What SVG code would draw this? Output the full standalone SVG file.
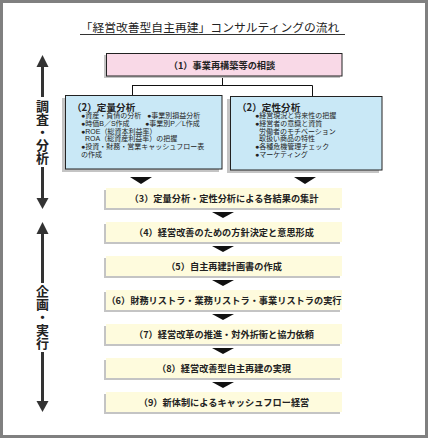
<svg xmlns="http://www.w3.org/2000/svg" width="428" height="438" viewBox="0 0 428 438">
<style>
text{font-family:"Noto Sans CJK JP","Noto Sans",sans-serif;fill:#222}
.title{font-size:11.8px}
.lbl{font-size:9.2px;font-weight:bold}
.sub{font-size:9.6px;font-weight:bold}
.b{font-size:7px;font-family:"Liberation Sans","Noto Sans CJK JP",sans-serif}
.vt{font-size:13px;font-weight:bold;writing-mode:vertical-rl}
.shadow{fill:#c4c4c4}
.pink{fill:#f9d9e7;stroke:#222;stroke-width:1}
.blue{fill:#c9e8f6;stroke:#222;stroke-width:1}
.yel{fill:#fefbdd}
.tri{fill:#111}
.conn{fill:none;stroke:#111;stroke-width:1}
.arr{fill:#333}
</style>
<rect x="0" y="0" width="428" height="438" fill="#fff"/>
<rect x="1.5" y="1.5" width="425" height="435" fill="none" stroke="#808080" stroke-width="3"/>
<g id="title">
<text class="title" x="210" y="32" text-anchor="middle">「経営改善型自主再建」コンサルティングの流れ</text>
<line x1="80" y1="34.5" x2="345" y2="34.5" stroke="#333" stroke-width="1"/>
</g>
<g id="side-arrows">
<polygon class="arr" points="42.5,55 36.5,67 48.5,67"/>
<rect class="arr" x="41" y="66" width="3" height="31"/>
<rect class="arr" x="41" y="167" width="3" height="32"/>
<polygon class="arr" points="42.5,209 36.5,198 48.5,198"/>
<text class="vt" x="42.5" y="100">調査・分析</text>
<polygon class="arr" points="42.5,222 36.5,234 48.5,234"/>
<rect class="arr" x="41" y="233" width="3" height="50"/>
<rect class="arr" x="41" y="352" width="3" height="50"/>
<polygon class="arr" points="42.5,412 36.5,401 48.5,401"/>
<text class="vt" x="42.5" y="285">企画・実行</text>
</g>
<g id="connectors">
<path class="conn" d="M222.5,76 V85.5 M132,85.5 H312.5 M132.5,85.5 V95 M312.5,85.5 V96"/>
<polygon class="tri" points="130,177 152,177 141,184"/>
<polygon class="tri" points="294,177 316,177 305,184"/>
<polygon class="tri" points="212,212 234,212 223,218"/>
<polygon class="tri" points="212,246 234,246 223,252"/>
<polygon class="tri" points="212,280 234,280 223,286"/>
<polygon class="tri" points="212,314 234,314 223,320"/>
<polygon class="tri" points="212,348 234,348 223,354"/>
<polygon class="tri" points="212,382 234,382 223,388"/>
</g>
<g id="n1">
<rect class="shadow" x="104" y="55" width="236" height="23"/>
<rect class="pink" x="106.5" y="53.5" width="235.5" height="22.5"/>
<text class="lbl" x="222" y="68.5" text-anchor="middle">（1）事業再構築等の相談</text>
</g>
<g id="n2a">
<rect class="shadow" x="62" y="98" width="157" height="74"/>
<rect class="blue" x="65.5" y="95.5" width="156.5" height="73.5"/>
<text class="sub" x="72" y="110.5">（2）定量分析</text>
<text class="b"><tspan x="81" y="118">●資産・負債の分析</tspan><tspan x="147" y="118">●事業別損益分析</tspan><tspan x="81" y="125.8">●時価B／S作成</tspan><tspan x="145" y="125.8">●事業別P／L作成</tspan><tspan x="81" y="133.5">●ROE（総資本利益率）</tspan><tspan x="85" y="141">ROA（総資産利益率）の把握</tspan><tspan x="81" y="149">●投資・財務・営業キャッシュフロー表</tspan><tspan x="81" y="156.5">の作成</tspan></text>
</g>
<g id="n2b">
<rect class="shadow" x="227" y="99" width="152" height="74"/>
<rect class="blue" x="230.5" y="96.5" width="151.5" height="73.5"/>
<text class="sub" x="237" y="110.5">（2）定性分析</text>
<text class="b"><tspan x="255" y="118">●経営現況と将来性の把握</tspan><tspan x="255" y="125.8">●経営者の意識と資質</tspan><tspan x="259" y="133.5">労働者のモチベーション</tspan><tspan x="259" y="141">取扱い商品の特性</tspan><tspan x="255" y="149">●各種危機管理チェック</tspan><tspan x="255" y="156.5">●マーケティング</tspan></text>
</g>
<g id="n3">
<rect class="shadow" x="104" y="190" width="236" height="20"/>
<rect class="yel" x="106" y="188" width="236" height="20"/>
<text class="lbl" x="224" y="201.5" text-anchor="middle">（3）定量分析・定性分析による各結果の集計</text>
</g>
<g id="n4">
<rect class="shadow" x="104" y="224" width="236" height="20"/>
<rect class="yel" x="106" y="222" width="236" height="20"/>
<text class="lbl" x="224" y="235.5" text-anchor="middle">（4）経営改善のための方針決定と意思形成</text>
</g>
<g id="n5">
<rect class="shadow" x="104" y="258" width="236" height="20"/>
<rect class="yel" x="106" y="256" width="236" height="20"/>
<text class="lbl" x="224" y="269.5" text-anchor="middle">（5）自主再建計画書の作成</text>
</g>
<g id="n6">
<rect class="shadow" x="104" y="292" width="236" height="20"/>
<rect class="yel" x="106" y="290" width="236" height="20"/>
<text class="lbl" x="224" y="303.5" text-anchor="middle">（6）財務リストラ・業務リストラ・事業リストラの実行</text>
</g>
<g id="n7">
<rect class="shadow" x="104" y="326" width="236" height="20"/>
<rect class="yel" x="106" y="324" width="236" height="20"/>
<text class="lbl" x="224" y="337.5" text-anchor="middle">（7）経営改革の推進・対外折衝と協力依頼</text>
</g>
<g id="n8">
<rect class="shadow" x="104" y="360" width="236" height="20"/>
<rect class="yel" x="106" y="358" width="236" height="20"/>
<text class="lbl" x="224" y="371.5" text-anchor="middle">（8）経営改善型自主再建の実現</text>
</g>
<g id="n9">
<rect class="shadow" x="104" y="394" width="236" height="20"/>
<rect class="yel" x="106" y="392" width="236" height="20"/>
<text class="lbl" x="224" y="405.5" text-anchor="middle">（9）新体制によるキャッシュフロー経営</text>
</g>
</svg>
